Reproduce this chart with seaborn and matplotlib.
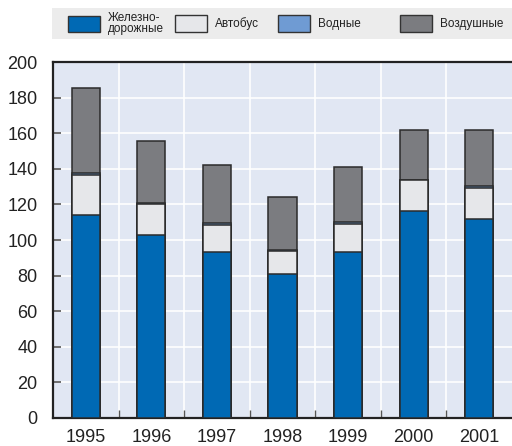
import matplotlib
matplotlib.use("Agg")
import matplotlib.pyplot as plt
import matplotlib.patches as mpatches
from matplotlib.ticker import FixedLocator
import seaborn as sns
import pandas as pd
import numpy as np
from matplotlib import font_manager

years = ["1995", "1996", "1997", "1998", "1999", "2000", "2001"]
rail = [114, 103, 93, 81, 93, 116.5, 112]
bus = [22.5, 17, 15.5, 13, 16, 17, 17]
water = [1, 0.6, 0.8, 0.3, 1, 0.3, 1.3]
air = [48, 35, 33, 30, 31, 28, 31.5]
series_names = ["Железно-\nдорожные", "Автобус", "Водные", "Воздушные"]
colors = ["#0069b4", "#e6e7ea", "#6f9bd3", "#7b7c80"]
yticks = [0, 20, 40, 60, 80, 100, 120, 140, 160, 180, 200]

sns.set_theme(style="white")
names = {f.name for f in font_manager.fontManager.ttflist}
fam = [f for f in ["Liberation Sans Narrow", "Liberation Sans", "DejaVu Sans"] if f in names]
plt.rcParams["font.family"] = fam

df = pd.DataFrame({"year": years, "rail": rail, "bus": bus, "water": water, "air": air})
df["c_rail"] = df["rail"]
df["c_bus"] = df["c_rail"] + df["bus"]
df["c_water"] = df["c_bus"] + df["water"]
df["c_air"] = df["c_water"] + df["air"]

W, H = 512, 446
fig = plt.figure(figsize=(W/100, H/100), dpi=100)
ax = fig.add_axes([53/W, 1-418/H, 1-53/W, (418-62)/H])
ax.set_facecolor("#e1e7f3")

edge = "#2b2b2b"
for col, c in zip(["c_air", "c_water", "c_bus", "c_rail"], colors[::-1]):
    sns.barplot(data=df, x="year", y=col, color=c, width=0.43, edgecolor=edge,
                linewidth=1.1, saturation=1, ax=ax, zorder=3)

ax.set_xlim(-0.5, 6.5)
ax.set_ylim(0, 200)
ax.set_yticks(yticks)
ax.set_xlabel("")
ax.set_ylabel("")
ax.xaxis.set_minor_locator(FixedLocator(np.arange(0.5, 6.5, 1)))
ax.grid(True, which="major", axis="y", color="white", linewidth=1.2, zorder=0)
ax.grid(True, which="minor", axis="x", color="white", linewidth=1.2, zorder=0)
ax.set_axisbelow(True)
ax.tick_params(axis="y", which="major", direction="in", length=6, width=1.2,
               color="#555555", labelsize=13, pad=11, left=True, labelcolor="#222222")
ax.tick_params(axis="x", which="major", length=0, labelsize=13, pad=8, labelcolor="#222222")
ax.tick_params(axis="x", which="minor", direction="in", length=6, width=1.0,
               color="#555555", bottom=True)
for s in ["left", "bottom", "top"]:
    ax.spines[s].set_visible(True)
    ax.spines[s].set_color("#222222")
    ax.spines[s].set_linewidth(1.6)
ax.spines["right"].set_visible(False)

# legend band
lax = fig.add_axes([52/W, 1-39/H, 1-52/W, 31/H])
lax.set_facecolor("#ececec")
lax.set_xticks([]); lax.set_yticks([])
for s in lax.spines.values():
    s.set_visible(False)
handle_left_px = [68, 175, 278, 400]
fs = 8.5
for name, c, xp in zip(series_names, colors, handle_left_px):
    h = mpatches.Patch(facecolor=c, edgecolor="#333333", linewidth=1.0)
    leg = fig.legend([h], [name], loc="center left", bbox_to_anchor=(xp/W, 1-23.5/H),
                     frameon=False, fontsize=fs, handlelength=2.7, handleheight=1.75,
                     handletextpad=0.65, borderpad=0, borderaxespad=0)
    for t in leg.get_texts():
        t.set_linespacing(0.8)
        t.set_color("#222222")

fig.savefig("out.png", dpi=100)
